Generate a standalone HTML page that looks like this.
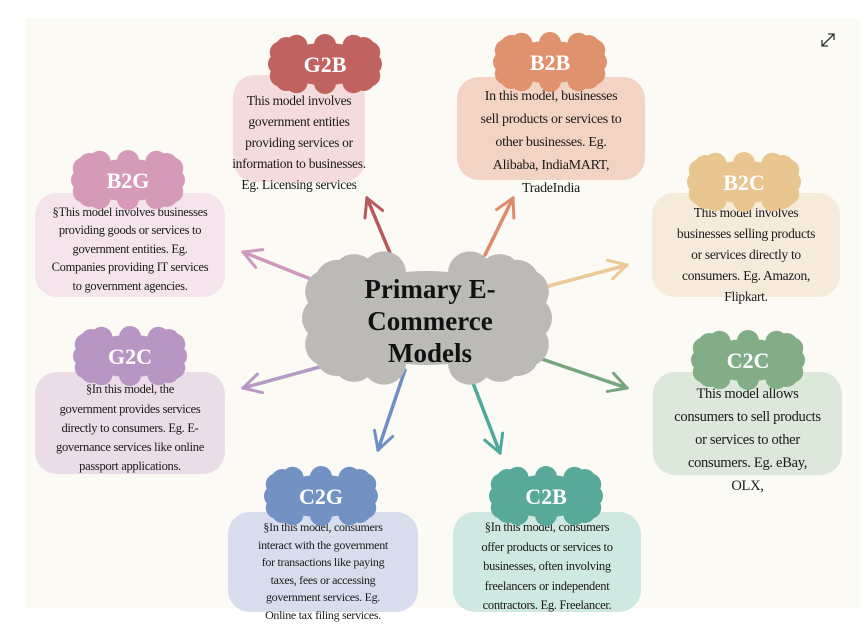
<!DOCTYPE html>
<html><head><meta charset="utf-8">
<style>
html,body{margin:0;padding:0;background:#fff;}
body{width:867px;height:643px;position:relative;overflow:hidden;font-family:"Liberation Serif",serif;}
#panel{position:absolute;left:25px;top:18px;width:835px;height:590px;background:#fcfaf5;}
.box{position:absolute;border-radius:22px;text-align:center;color:#1a1a1a;box-sizing:border-box;white-space:nowrap;letter-spacing:-0.3px;}
.box div{width:300px;margin-left:-150px;position:relative;left:50%;}
svg{position:absolute;left:0;top:0;}
</style></head><body>
<div id="panel"></div>
<div class="box" style="left:233px;top:75px;width:132px;height:107px;background:#f5dcdc;padding-top:14.5px;font-size:13.5px;line-height:21px;"><div>This model involves<br>government entities<br>providing services or<br>information to businesses.<br>Eg. Licensing services</div></div>
<div class="box" style="left:457px;top:77px;width:188px;height:103px;background:#f3d3c3;padding-top:7.5px;font-size:14px;line-height:23px;"><div>In this model, businesses<br>sell products or services to<br>other businesses. Eg.<br>Alibaba, IndiaMART,<br>TradeIndia</div></div>
<div class="box" style="left:35px;top:193px;width:190px;height:104px;background:#f5e4ec;padding-top:9.75px;font-size:12.5px;line-height:18.5px;"><div>§This model involves businesses<br>providing goods or services to<br>government entities. Eg.<br>Companies providing IT services<br>to government agencies.</div></div>
<div class="box" style="left:652px;top:193px;width:188px;height:104px;background:#f6eadb;padding-top:8.5px;font-size:13.5px;line-height:21px;"><div>This model involves<br>businesses selling products<br>or services directly to<br>consumers. Eg. Amazon,<br>Flipkart.</div></div>
<div class="box" style="left:35px;top:372px;width:190px;height:102px;background:#ebdde8;padding-top:8.3px;font-size:12.5px;line-height:19.3px;"><div>§In this model, the<br>government provides services<br>directly to consumers. Eg. E-<br>governance services like online<br>passport applications.</div></div>
<div class="box" style="left:653px;top:372px;width:189px;height:103px;background:#dbe8da;padding-top:10.5px;font-size:14.5px;line-height:23px;"><div>This model allows<br>consumers to sell products<br>or services to other<br>consumers. Eg. eBay,<br>OLX,</div></div>
<div class="box" style="left:228px;top:512px;width:190px;height:100px;background:#d8dded;padding-top:7.25px;font-size:12px;line-height:17.5px;"><div>§In this model, consumers<br>interact with the government<br>for transactions like paying<br>taxes, fees or accessing<br>government services. Eg.<br>Online tax filing services.</div></div>
<div class="box" style="left:453px;top:512px;width:188px;height:100px;background:#cfe8e1;padding-top:6.25px;font-size:12.5px;line-height:19.5px;"><div>§In this model, consumers<br>offer products or services to<br>businesses, often involving<br>freelancers or independent<br>contractors. Eg. Freelancer.</div></div>
<svg id="s" width="867" height="643" viewBox="0 0 867 643"></svg>
<script>
var s=document.getElementById('s'),NS='http://www.w3.org/2000/svg';
function el(t,a){var e=document.createElementNS(NS,t);for(var k in a)e.setAttribute(k,a[k]);s.appendChild(e);return e;}
function cloud(cx,cy,w,h,r,n,col){
 var rx=w/2-r,ry=h/2-r;
 el('ellipse',{cx:cx,cy:cy,rx:rx+2,ry:ry+2,fill:col});
 el('rect',{x:cx-rx,y:cy-ry,width:2*rx,height:2*ry,fill:col});
 for(var i=0;i<n;i++){var a=2*Math.PI*i/n;
  var x=cx+rx*Math.sign(Math.cos(a))*Math.pow(Math.abs(Math.cos(a)),0.5);
  var y=cy+ry*Math.sign(Math.sin(a))*Math.pow(Math.abs(Math.sin(a)),0.5);
  el('circle',{cx:x,cy:y,r:r,fill:col});}
}
function arrow(x1,y1,x2,y2,col){
 el('line',{x1:x1,y1:y1,x2:x2,y2:y2,stroke:col,'stroke-width':3.5,'stroke-linecap':'round'});
 var a=Math.atan2(y2-y1,x2-x1),L=20,sp=0.5;
 var p=(x2-L*Math.cos(a-sp))+','+(y2-L*Math.sin(a-sp))+' '+x2+','+y2+' '+(x2-L*Math.cos(a+sp))+','+(y2-L*Math.sin(a+sp));
 el('polyline',{points:p,fill:'none',stroke:col,'stroke-width':3,'stroke-linecap':'round','stroke-linejoin':'round'});
}
arrow(390,253,367,198,'#b8585a');
arrow(485,255,513,198,'#de8a6c');
arrow(313,280,243,252,'#cf98be');
arrow(545,287,627,265,'#ecc996');
arrow(327,365,243,388,'#b69ac6');
arrow(405,370,378,450,'#6f8fc4');
arrow(473,383,500,453,'#4fa89c');
arrow(530,355,627,388,'#77a67e');
cloud(427,318,250,134,22,18,'#bcbab6');
var t=[['Primary E-',298],['Commerce',330],['Models',362]];
t.forEach(function(l){var e=el('text',{x:430,y:l[1],'text-anchor':'middle','font-family':'Liberation Serif, serif','font-weight':'bold','font-size':27,fill:'#111'});e.textContent=l[0];});
var c=[['G2B',325,64,'#c0625f'],['B2B',550,62,'#e0926f'],['B2G',128,180,'#d69ab9'],['B2C',744,182,'#e9c58f'],['G2C',130,356,'#b796c3'],['C2C',748,360,'#83ad86'],['C2G',321,496,'#7192c2'],['C2B',546,496,'#59a99b']];
c.forEach(function(d){cloud(d[1],d[2],114,60,11,16,d[3]);var e=el('text',{x:d[1],y:d[2]+8,'text-anchor':'middle','font-family':'Liberation Serif, serif','font-weight':'bold','font-size':22,fill:'#fff'});e.textContent=d[0];});
el('path',{d:'M822 46 L834 34 M828 34 L834 34 L834 40 M822 40 L822 46 L828 46',stroke:'#333','stroke-width':1.3,fill:'none'});
</script>
</body></html>
